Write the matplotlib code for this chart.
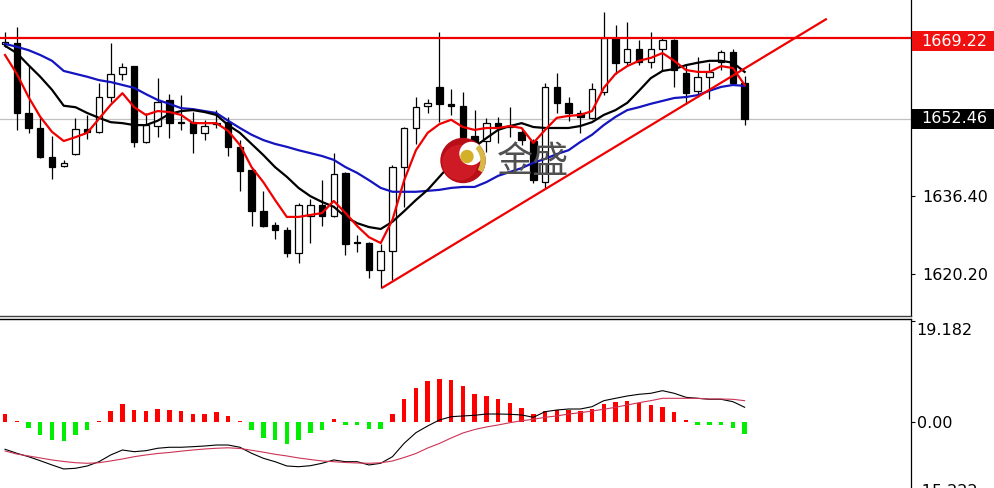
import matplotlib
matplotlib.use("Agg")
import matplotlib.pyplot as plt
import numpy as np
from matplotlib.patches import Rectangle, Circle, Wedge
from matplotlib.transforms import blended_transform_factory

# ---------------- data ----------------
opens = [1667.88, 1668.08, 1653.60, 1650.50, 1644.50, 1642.63, 1645.12, 1650.29, 1649.67, 1656.91,
         1661.67, 1663.32, 1647.60, 1650.91, 1656.29, 1651.74, 1651.74, 1649.46, 1651.53, 1651.74,
         1646.57, 1641.81, 1633.32, 1630.43, 1629.39, 1624.63, 1632.29, 1634.57, 1632.29, 1641.19,
         1626.91, 1626.70, 1621.12, 1625.05, 1642.43, 1650.50, 1655.05, 1658.98, 1655.46, 1655.05,
         1648.84, 1647.81, 1651.53, 1650.91, 1649.67, 1647.81, 1639.32, 1658.98, 1655.67, 1653.60,
         1652.57, 1657.95, 1669.12, 1664.15, 1666.84, 1664.15, 1666.84, 1668.70, 1661.88, 1658.15,
         1661.05, 1664.15, 1666.22, 1659.81]
highs = [1670.36, 1671.39, 1663.32, 1652.57, 1648.84, 1643.88, 1652.57, 1653.19, 1659.81, 1668.08,
         1663.95, 1663.32, 1653.60, 1660.84, 1657.53, 1657.32, 1653.81, 1652.15, 1654.22, 1652.77,
         1648.01, 1642.22, 1637.46, 1631.05, 1630.01, 1634.98, 1635.81, 1639.74, 1645.32, 1641.39,
         1628.36, 1626.91, 1626.50, 1642.84, 1650.70, 1656.91, 1656.50, 1670.36, 1658.57, 1657.95,
         1654.22, 1652.57, 1652.77, 1654.84, 1650.50, 1648.22, 1659.81, 1661.88, 1656.91, 1654.22,
         1659.81, 1674.50, 1671.81, 1672.43, 1668.70, 1670.36, 1669.12, 1668.91, 1663.53, 1665.19,
         1663.95, 1666.63, 1666.84, 1661.26]
lows = [1667.26, 1650.08, 1649.46, 1644.29, 1639.94, 1642.43, 1644.91, 1648.22, 1649.46, 1655.88,
        1660.43, 1646.57, 1647.39, 1648.63, 1648.43, 1650.08, 1645.32, 1648.01, 1650.50, 1644.70,
        1637.46, 1630.22, 1630.01, 1627.53, 1623.81, 1622.57, 1626.70, 1630.22, 1632.08, 1624.22,
        1624.84, 1619.46, 1617.39, 1619.05, 1634.15, 1647.19, 1653.60, 1651.74, 1653.19, 1645.94,
        1643.88, 1645.53, 1647.39, 1648.63, 1646.98, 1639.12, 1638.08, 1653.60, 1651.95, 1649.46,
        1652.36, 1657.32, 1661.67, 1663.32, 1663.53, 1662.91, 1662.29, 1658.98, 1655.46, 1656.91,
        1656.50, 1662.50, 1659.39, 1651.12]
closes = [1668.29, 1653.60, 1650.50, 1644.50, 1642.43, 1643.26, 1650.29, 1649.67, 1656.91, 1661.67,
          1663.12, 1647.60, 1651.12, 1655.88, 1651.53, 1651.53, 1649.46, 1650.91, 1651.32, 1646.57,
          1641.60, 1633.32, 1630.22, 1629.39, 1624.63, 1634.57, 1634.57, 1632.29, 1640.98, 1626.50,
          1626.70, 1621.12, 1625.05, 1642.43, 1650.50, 1654.84, 1655.67, 1655.46, 1655.05, 1648.63,
          1647.60, 1651.53, 1650.50, 1650.70, 1648.01, 1639.74, 1658.98, 1655.67, 1653.60, 1652.77,
          1658.57, 1669.12, 1663.95, 1666.84, 1664.15, 1666.84, 1668.70, 1662.50, 1657.74, 1661.05,
          1662.08, 1666.22, 1659.81, 1652.46]

ma_blue = [1667.9, 1667.3, 1666.6, 1665.6, 1664.4, 1662.3, 1661.7, 1661.1, 1660.4, 1660.0,
           1659.4, 1658.8, 1657.5, 1656.3, 1655.5, 1654.6, 1654.4, 1654.0, 1653.6, 1652.0,
           1650.5, 1649.1, 1648.0, 1647.2, 1646.6, 1645.9, 1645.3, 1644.7, 1643.9, 1642.4,
           1641.2, 1639.7, 1638.1, 1637.3, 1637.3, 1637.3, 1637.5, 1637.7, 1638.1, 1638.3,
           1638.3, 1639.3, 1640.6, 1641.4, 1642.2, 1643.3, 1644.1, 1645.1, 1645.9, 1647.6,
           1649.1, 1651.1, 1652.8, 1654.2, 1654.8, 1655.5, 1656.1, 1656.7, 1656.9, 1657.3,
           1658.2, 1659.0, 1659.4, 1659.2]
ma_black = [1667.5, 1666.0, 1663.5, 1661.1, 1658.4, 1655.1, 1654.8, 1653.6, 1652.6, 1651.7,
            1651.5, 1651.1, 1651.1, 1652.0, 1653.4, 1654.0, 1654.2, 1653.8, 1653.2, 1651.1,
            1649.5, 1647.2, 1644.9, 1642.4, 1640.4, 1638.1, 1636.4, 1635.2, 1634.2, 1632.1,
            1630.8, 1630.0, 1629.6, 1631.1, 1633.3, 1635.6, 1637.7, 1640.4, 1643.1, 1644.9,
            1646.6, 1648.4, 1650.1, 1650.9, 1651.5, 1650.7, 1650.5, 1650.5, 1650.5, 1650.9,
            1651.7, 1653.2, 1654.2, 1655.7, 1658.2, 1660.8, 1662.3, 1662.7, 1663.5, 1664.0,
            1664.4, 1664.4, 1664.0, 1662.1]
ma_red = [1665.6, 1661.7, 1656.9, 1652.8, 1649.7, 1647.8, 1648.6, 1649.5, 1652.4, 1655.3,
          1657.7, 1654.8, 1653.2, 1654.0, 1653.8, 1653.2, 1651.5, 1651.5, 1651.5, 1649.9,
          1647.0, 1642.4, 1639.3, 1635.6, 1632.1, 1632.1, 1632.5, 1632.9, 1635.4, 1632.9,
          1630.2, 1627.9, 1626.7, 1631.5, 1639.7, 1645.9, 1649.5, 1651.3, 1652.2, 1650.7,
          1650.1, 1650.5, 1650.5, 1650.9, 1650.5, 1647.4, 1650.1, 1652.6, 1653.0, 1653.2,
          1654.0, 1658.8, 1661.7, 1663.3, 1664.4, 1665.0, 1666.0, 1664.4, 1662.5, 1662.1,
          1662.1, 1663.3, 1662.9, 1659.4]

resistance_level = 1669.22
bid_level = 1652.46
trend_x = [32.1, 70.0]
trend_y = [1617.4, 1673.1]

main_ticks = [1636.40, 1620.20]
main_tick_labels = ["1636.40", "1620.20"]

macd_hist = [1.5, 0.2, -1.0, -2.5, -3.3, -3.6, -2.5, -1.5, 0.2, 2.1,
             3.4, 2.4, 2.1, 2.5, 2.4, 2.1, 1.65, 1.65, 1.9, 1.1,
             0.2, -1.5, -2.9, -3.4, -4.2, -3.3, -2.1, -1.5, 0.55, -0.5,
             -0.55, -1.2, -1.2, 1.65, 4.4, 6.6, 7.8, 8.3, 8.0, 6.8,
             5.4, 4.9, 4.4, 3.7, 2.8, 1.5, 2.2, 2.4, 2.4, 2.2,
             2.5, 3.5, 3.85, 4.0, 3.6, 3.2, 2.9, 1.95, 0.45, -0.45,
             -0.45, -0.45, -1.0, -2.3]
macd_line = [-5.12, -5.88, -6.53, -7.29, -8.10, -8.86, -8.73, -8.29, -7.48, -6.20,
             -5.26, -5.58, -5.39, -4.93, -4.74, -4.74, -4.63, -4.50, -4.31, -4.31,
             -4.74, -5.88, -6.83, -7.48, -8.29, -8.43, -8.24, -7.78, -7.15, -7.48,
             -7.48, -8.10, -7.78, -6.53, -3.98, -1.97, -0.70, 0.44, 1.06, 1.20,
             1.33, 1.57, 1.57, 1.52, 1.39, 0.95, 2.01, 2.33, 2.52, 2.52,
             2.96, 4.10, 4.55, 4.99, 5.31, 5.50, 6.00, 5.50, 4.74, 4.55,
             4.36, 4.36, 3.91, 2.85]
signal_line = [-5.45, -6.02, -6.39, -6.77, -7.15, -7.44, -7.67, -7.78, -7.67, -7.34,
               -6.96, -6.53, -6.20, -5.92, -5.73, -5.48, -5.26, -5.07, -4.93, -4.84,
               -4.97, -5.31, -5.67, -6.07, -6.39, -6.77, -7.06, -7.34, -7.48, -7.63,
               -7.72, -7.78, -7.69, -7.34, -6.68, -5.92, -4.88, -4.02, -2.98, -2.03,
               -1.37, -0.89, -0.51, -0.08, 0.30, 0.57, 0.95, 1.20, 1.57, 1.82,
               2.14, 2.47, 2.85, 3.28, 3.72, 4.10, 4.55, 4.55, 4.55, 4.55,
               4.42, 4.42, 4.36, 4.10]
macd_ticks = [19.182, 0.0, -15.222]
macd_tick_labels = ["19.182", "0.00", "-15.222"]

logo_text = "金盛"

# ---------------- figure ----------------
W, H = 995, 488
fig = plt.figure(figsize=(W / 100, H / 100), dpi=100, facecolor="white")
AX_R = 911
ax = fig.add_axes([0, 1 - 316 / H, AX_R / W, 316 / H])
ax2 = fig.add_axes([0, 0, AX_R / W, (H - 319) / H])

x = np.arange(len(opens))
o = np.array(opens); c = np.array(closes)
hi = np.array(highs); lo = np.array(lows)

FS = 11.5
RED = "#f00000"

ax.axhline(bid_level, color="#c0c0c0", lw=0.9, zorder=1)

# candles
ax.vlines(x, lo, hi, color="black", lw=0.9, zorder=2)
bull = c >= o
ax.bar(x, np.abs(c - o), bottom=np.minimum(o, c), width=0.55,
       color=np.where(bull, "white", "black"), edgecolor="black", linewidth=0.9, zorder=2.5)

# moving averages
ax.plot(x, ma_blue, color="#1414c0", lw=1.6, zorder=3)
ax.plot(x, ma_black, color="black", lw=1.6, zorder=3.1)
ax.plot(x, ma_red, color=RED, lw=1.6, zorder=3.2)

ax.axhline(resistance_level, color=RED, lw=1.6, zorder=4)
ax.plot(trend_x, trend_y, color=RED, lw=1.6, zorder=4, solid_capstyle="butt")

ax.set_xlim(-0.43, 77.17)
ax.set_ylim(1611.60, 1676.98)
ax.set_xticks([])
ax.yaxis.tick_right()
ax.set_yticks(main_ticks)
ax.set_yticklabels(main_tick_labels)
ax.tick_params(axis="y", direction="out", length=3, width=0.8, pad=5, labelsize=FS, colors="black")
for s in ["left", "top"]:
    ax.spines[s].set_visible(False)
ax.spines["right"].set_color("black"); ax.spines["right"].set_linewidth(0.9)
ax.spines["bottom"].set_color("#404040"); ax.spines["bottom"].set_linewidth(1.0)

# price label boxes on right axis
trans = blended_transform_factory(fig.transFigure, ax.transData)
ppu = 316 / (1676.98 - 1611.60)  # pixels per price unit
box_h = 20 / ppu
for level, fc, shift in [(resistance_level, "#f01010", 3.5), (bid_level, "black", 0.0)]:
    ax.add_patch(Rectangle((912 / W, level - shift / ppu - box_h / 2), (W - 912) / W, box_h,
                           transform=trans, facecolor=fc, edgecolor="none", clip_on=False, zorder=6))
    ax.annotate(f"{level:.2f}", xy=(1, level), xycoords=("axes fraction", "data"),
                xytext=(7.5, -shift * 0.72), textcoords="offset points", va="center", ha="left",
                color="white", fontsize=FS, annotation_clip=False, zorder=7)

# ---------------- MACD panel ----------------
hist = np.array(macd_hist)
ax2.bar(x, hist, width=0.38, color=np.where(hist >= 0, "#ff0000", "#00ee00"), zorder=2)
ax2.plot(x, macd_line, color="black", lw=0.8, zorder=3)
ax2.plot(x, signal_line, color="#cc3355", lw=0.8, zorder=3)
ax2.set_xlim(-0.43, 77.17)
ax2.set_ylim(-12.47, 19.60)
ax2.set_xticks([])
ax2.yaxis.tick_right()
ax2.set_yticks(macd_ticks[:2])
ax2.set_yticklabels([])
ax2.tick_params(axis="y", direction="out", length=3, width=0.8)
for s in ["left", "bottom"]:
    ax2.spines[s].set_visible(False)
ax2.spines["right"].set_linewidth(0.9)
ax2.spines["top"].set_linewidth(1.0)
ax2.annotate(macd_tick_labels[0], xy=(1, macd_ticks[0]), xycoords=("axes fraction", "data"),
             xytext=(4, -1), textcoords="offset points", va="top", ha="left",
             fontsize=FS, annotation_clip=False)
ax2.annotate(macd_tick_labels[1], xy=(1, macd_ticks[1]), xycoords=("axes fraction", "data"),
             xytext=(4, 0), textcoords="offset points", va="center_baseline", ha="left",
             fontsize=FS, annotation_clip=False)
ax2.annotate(macd_tick_labels[2], xy=(1, macd_ticks[2]), xycoords=("axes fraction", "data"),
             xytext=(4, 5), textcoords="offset points", va="baseline", ha="left",
             fontsize=FS, annotation_clip=False)

# ---------------- watermark logo ----------------
lax = fig.add_axes([438 / W, 1 - 185.5 / H, 50 / W, 50 / H])
lax.set_xlim(-25, 25); lax.set_ylim(-25, 25); lax.set_aspect("equal"); lax.axis("off")
lax.add_patch(Circle((0, 0), 22, color="#b80e18"))
lax.add_patch(Circle((-3, -2), 17, color="#d8202a", alpha=0.7))
lax.add_patch(Circle((8, 7), 11, color="white"))
lax.add_patch(Wedge((0, 0), 22, -30, 42, width=4, color="#d8b848"))
lax.add_patch(Circle((4, 4), 6, color="#d4b028"))
fig.text(533 / W, 1 - 162 / H, logo_text, fontsize=26, color="#505050",
         family=["Noto Sans CJK SC", "DejaVu Sans"], ha="center", va="center")

fig.savefig("out.png", dpi=100, facecolor="white")
